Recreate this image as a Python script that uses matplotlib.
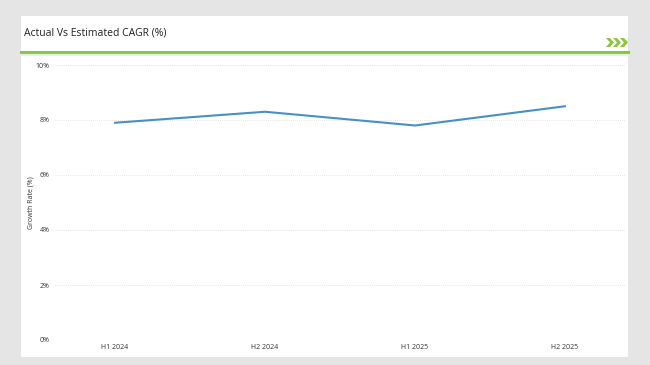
import matplotlib.pyplot as plt
from matplotlib.patches import Rectangle, Polygon

periods = ['H1 2024', 'H2 2024', 'H1 2025', 'H2 2025']
growth = [7.9, 8.3, 7.8, 8.5]
yticks = [0, 2, 4, 6, 8, 10]

W, H = 650, 365
fig = plt.figure(figsize=(6.5, 3.65), dpi=100)
fig.patch.set_facecolor('#e5e5e5')
plt.rcParams['font.family'] = ['Open Sans', 'DejaVu Sans']

# white card
fig.add_artist(Rectangle((21 / W, 1 - 357 / H), 607 / W, 341 / H,
                         transform=fig.transFigure, facecolor='white',
                         edgecolor='none', zorder=-5))
# green rule under title
fig.add_artist(plt.Line2D([21 / W, 628 / W], [1 - 52 / H] * 2,
                          transform=fig.transFigure, color='#8cc63f', lw=2.2))
fig.add_artist(plt.Line2D([21 / W, 628 / W], [1 - 55 / H] * 2,
                          transform=fig.transFigure, color='#ececec', lw=1.5))
fig.text(24 / W, 1 - 33 / H, 'Actual Vs Estimated CAGR (%)', fontsize=7.5,
         color='#222222', va='center', ha='left')

# chevrons
for i in range(3):
    x0 = 606 + i * 7
    pts = [(x0, 38), (x0 + 4, 38), (x0 + 8, 42.5), (x0 + 4, 47), (x0, 47), (x0 + 4, 42.5)]
    fig.add_artist(Polygon([(px / W, 1 - py / H) for px, py in pts],
                           transform=fig.transFigure, facecolor='#8cc63f',
                           edgecolor='none'))

ax = fig.add_axes([55 / W, 1 - 340 / H, 570 / W, 275 / H], zorder=2)
ax.set_facecolor('none')
x = list(range(len(periods)))
ax.plot(x, growth, color='#4a8fc4', lw=1.5)
ax.set_xlim(-0.4, 3.4)
ax.set_ylim(0, 10)
ax.set_yticks(yticks)
ax.set_yticklabels([f'{v}%' for v in yticks])
ax.set_xticks(x)
ax.set_xticklabels(periods)
ax.tick_params(length=0, labelsize=5, colors='#333333')
ax.tick_params(axis='y', pad=4)
ax.tick_params(axis='x', pad=3)
ax.grid(axis='y', color='#dddddd', lw=0.6, ls=(0, (1, 1.5)))
for s in ax.spines.values():
    s.set_visible(False)
ax.set_ylabel('Growth Rate (%)', fontsize=5, color='#333333', labelpad=1)

fig.savefig('out.png', dpi=100, facecolor=fig.get_facecolor())
